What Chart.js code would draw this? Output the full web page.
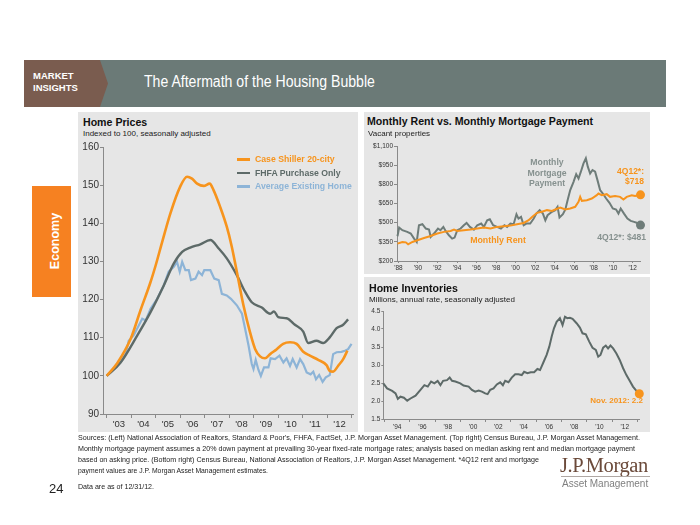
<!DOCTYPE html>
<html><head><meta charset="utf-8">
<script src="https://cdn.jsdelivr.net/npm/chart.js@4.4.0/dist/chart.umd.min.js"></script>
<style>
html,body{margin:0;padding:0;background:#fff;width:700px;height:525px;overflow:hidden;font-family:"Liberation Sans",Arial,sans-serif;}
body{position:relative;}
.a{position:absolute;white-space:nowrap;line-height:1;}
.l{transform:translateY(-50%);}
.c{transform:translate(-50%,-50%);text-align:center;}
.r{transform:translate(-100%,-50%);text-align:right;}
canvas{position:absolute;}
.panel{position:absolute;background:#e6e6e6;}
.src{position:absolute;left:78px;white-space:nowrap;font-size:8px;line-height:1;color:#222;transform-origin:0 50%;}
</style>
</head><body>
<!-- header -->
<div style="position:absolute;left:24px;top:60px;width:642px;height:47px;background:#6b7a77"></div>
<div style="position:absolute;left:24px;top:60px;width:84px;height:47px;background:#7a5c4f;clip-path:polygon(0 0,76px 0,84px 50%,76px 100%,0 100%)"></div>
<div class="a l" style="left:33px;top:76px;color:#fff;font-weight:bold;font-size:9.5px;">MARKET</div>
<div class="a l" style="left:33px;top:88px;color:#fff;font-weight:bold;font-size:9.5px;">INSIGHTS</div>
<div class="a" style="left:144px;top:82px;color:#fff;font-size:16px;transform-origin:0 50%;transform:translateY(-50%) scaleX(0.88);">The Aftermath of the Housing Bubble</div>

<!-- side tab -->
<div style="position:absolute;left:32px;top:186px;width:39px;height:111px;background:#f68121"></div>
<div class="a" style="left:55px;top:241px;color:#fff;font-weight:bold;font-size:12.5px;transform:translate(-50%,-50%) rotate(-90deg);">Economy</div>

<!-- panels -->
<div class="panel" style="left:78px;top:112px;width:280px;height:320px"></div>
<div class="panel" style="left:364px;top:112px;width:286px;height:162px"></div>
<div class="panel" style="left:364px;top:277px;width:286px;height:155px"></div>

<!-- left titles -->
<div class="a l" style="left:83px;top:122px;font-weight:bold;font-size:10.6px;color:#111">Home Prices</div>
<div class="a l" style="left:83px;top:134px;font-size:8px;color:#222">Indexed to 100, seasonally adjusted</div>

<canvas id="c1" width="300" height="294" style="left:58px;top:140px"></canvas>

<!-- left legend -->
<div style="position:absolute;left:237px;top:158px;width:13px;height:2.5px;background:#f7941d"></div>
<div style="position:absolute;left:237px;top:171.5px;width:13px;height:2.5px;background:#5d6a68"></div>
<div style="position:absolute;left:237px;top:185px;width:13px;height:2.5px;background:#8db4d7"></div>
<div class="a l" style="left:255px;top:159.3px;font-weight:bold;font-size:8.7px;color:#f7941d">Case Shiller 20-city</div>
<div class="a l" style="left:255px;top:172.7px;font-weight:bold;font-size:8.7px;color:#5d6a68">FHFA Purchase Only</div>
<div class="a l" style="left:255px;top:186px;font-weight:bold;font-size:8.7px;color:#8db4d7">Average Existing Home</div>

<!-- top right titles -->
<div class="a l" style="left:367px;top:121px;font-weight:bold;font-size:10.6px;color:#111">Monthly Rent vs. Monthly Mortgage Payment</div>
<div class="a l" style="left:368px;top:134px;font-size:8px;color:#222">Vacant properties</div>

<canvas id="c2" width="300" height="136" style="left:350px;top:138px"></canvas>

<div class="a c" style="left:547px;top:162.3px;font-weight:bold;font-size:8.7px;color:#86918f">Monthly</div>
<div class="a c" style="left:547px;top:172.7px;font-weight:bold;font-size:8.7px;color:#86918f">Mortgage</div>
<div class="a c" style="left:547px;top:183px;font-weight:bold;font-size:8.7px;color:#86918f">Payment</div>
<div class="a r" style="left:644px;top:170.7px;font-weight:bold;font-size:8.5px;color:#f7941d">4Q12*:</div>
<div class="a r" style="left:644px;top:181px;font-weight:bold;font-size:8.5px;color:#f7941d">$718</div>
<div class="a r" style="left:646px;top:237.3px;font-weight:bold;font-size:8.6px;color:#86918f">4Q12*: $481</div>
<div class="a c" style="left:498px;top:240px;font-weight:bold;font-size:8.8px;color:#f7941d">Monthly Rent</div>

<!-- bottom right titles -->
<div class="a l" style="left:369px;top:288px;font-weight:bold;font-size:10.6px;color:#111">Home Inventories</div>
<div class="a l" style="left:369px;top:299.5px;font-size:8px;color:#222">Millions, annual rate, seasonally adjusted</div>

<canvas id="c3" width="300" height="130" style="left:350px;top:303px"></canvas>
<div class="a r" style="left:643px;top:401px;font-weight:bold;font-size:8px;color:#f7941d">Nov. 2012: 2.2</div>

<!-- footer: each line scaled to its measured width -->
<div class="src" data-w="562" style="top:438px">Sources: (Left) National Association of Realtors, Standard &amp; Poor's, FHFA, FactSet, J.P. Morgan Asset Management. (Top right) Census Bureau, J.P. Morgan Asset Management.</div>
<div class="src" data-w="557" style="top:449px">Monthly mortgage payment assumes a 20% down payment at prevailing 30-year fixed-rate mortgage rates; analysis based on median asking rent and median mortgage payment</div>
<div class="src" data-w="461" style="top:460px">based on asking price. (Bottom right) Census Bureau, National Association of Realtors, J.P. Morgan Asset Management. *4Q12 rent and mortgage</div>
<div class="src" data-w="190" style="top:471px">payment values are J.P. Morgan Asset Management estimates.</div>
<div class="src" data-w="76" style="top:487px">Data are as of 12/31/12.</div>
<div class="a l" style="left:49px;top:488px;font-size:13px;color:#222">24</div>
<div class="a l" style="left:560px;top:465px;font-family:'Liberation Serif','Times New Roman',serif;font-size:20.5px;color:#6b4a3a;letter-spacing:-0.4px">J.P.Morgan</div>
<div style="position:absolute;left:561px;top:476px;width:89px;height:1px;background:#b0a8a4"></div>
<div class="a l" style="left:562px;top:484px;font-size:10px;color:#7f7f7f">Asset Management</div>

<script>
// fit footer source lines to their measured widths
document.querySelectorAll('.src').forEach(el => {
  const w = el.getBoundingClientRect().width;
  const k = parseFloat(el.dataset.w) / w;
  el.style.transform = 'translateY(-50%) scaleX(' + k.toFixed(4) + ')';
});

// ---------- DATA ----------
// Left: Home prices indexed to 100 (x = decimal year)
const csYears = [2003.0, 2003.43, 2003.98, 2004.38, 2004.79, 2005.0, 2005.26, 2005.6, 2006.0, 2006.28, 2006.48, 2006.69, 2006.96, 2007.2, 2007.36, 2007.63, 2007.9, 2008.1, 2008.31, 2008.58, 2008.85, 2009.06, 2009.26, 2009.46, 2009.67, 2009.94, 2010.2, 2010.48, 2010.75, 2011.02, 2011.29, 2011.63, 2011.97, 2012.1, 2012.24, 2012.44, 2012.65, 2012.82];
const csValues = [100, 103.3, 109.7, 117.2, 124.6, 129, 135, 142.6, 149.6, 152.2, 151.7, 150.4, 149.8, 150.4, 148.7, 144.3, 139.1, 134, 127.3, 118.5, 111.4, 107, 105.1, 104.6, 105.7, 107, 108.4, 108.8, 108.4, 106.3, 105.3, 104.2, 102.8, 101.3, 101.1, 102.6, 104.4, 106.6];

const fhfaYears = [2003.0, 2003.57, 2004.25, 2004.79, 2005.33, 2005.74, 2006.08, 2006.41, 2006.82, 2007.23, 2007.57, 2007.9, 2008.31, 2008.65, 2008.92, 2009.33, 2009.67, 2009.83, 2010.0, 2010.34, 2010.68, 2011.02, 2011.22, 2011.56, 2011.83, 2012.1, 2012.38, 2012.65, 2012.85];
const fhfaValues = [100, 103.5, 110.6, 116.7, 123.7, 129.5, 132.5, 133.6, 134.5, 135.6, 133.4, 130.8, 126.4, 122, 119.3, 117.9, 116.3, 116.9, 115.4, 115.1, 113.4, 111.6, 108.6, 109.2, 108.6, 110.1, 112.5, 113.4, 114.8];

const aehYears = [2003.0, 2003.43, 2003.77, 2003.9, 2004.1, 2004.45, 2004.59, 2004.79, 2005.06, 2005.33, 2005.53, 2005.74, 2005.87, 2005.98, 2006.08, 2006.21, 2006.35, 2006.44, 2006.62, 2006.75, 2006.89, 2006.98, 2007.23, 2007.39, 2007.57, 2007.7, 2007.9, 2008.07, 2008.31, 2008.52, 2008.65, 2008.79, 2008.92, 2008.99, 2009.08, 2009.19, 2009.29, 2009.42, 2009.6, 2009.69, 2009.87, 2010.05, 2010.21, 2010.34, 2010.48, 2010.59, 2010.75, 2010.89, 2011.02, 2011.16, 2011.32, 2011.43, 2011.54, 2011.67, 2011.81, 2011.94, 2012.1, 2012.24, 2012.38, 2012.58, 2012.72, 2012.85, 2012.99];
const aehValues = [100, 102.6, 105.7, 109.2, 110.6, 115, 114.5, 117.6, 120.2, 123.7, 127.3, 128.6, 129.9, 127.3, 129.9, 127.7, 127.7, 125.1, 125.5, 127.3, 126.4, 127.7, 127.7, 125.5, 125.1, 121.5, 121.1, 120.2, 118.5, 116.3, 112.3, 107.9, 103.1, 101.8, 104.2, 101.6, 100, 102.2, 102.2, 104.6, 104.4, 105.3, 103.5, 104.6, 102.6, 104.4, 102.2, 104.4, 103.1, 100.9, 100.4, 101.1, 99.1, 100.2, 98.4, 99.6, 100.2, 105.7, 106.2, 106.3, 106.6, 107, 108.4];

// Top right: monthly mortgage payment vs monthly rent ($)
const mortYears = [1987.9, 1988.07, 1988.4, 1988.9, 1989.26, 1989.6, 1989.87, 1990.1, 1990.45, 1990.8, 1991.13, 1991.3, 1991.64, 1992.05, 1992.3, 1992.6, 1992.83, 1993.17, 1993.5, 1993.75, 1994.03, 1994.37, 1994.7, 1994.98, 1995.32, 1995.73, 1996.07, 1996.48, 1996.75, 1997.09, 1997.36, 1997.7, 1998.1, 1998.5, 1998.86, 1999.13, 1999.47, 1999.8, 2000.09, 2000.3, 2000.56, 2000.83, 2001.1, 2001.5, 2001.86, 2002.13, 2002.47, 2002.8, 2003.05, 2003.28, 2003.73, 2004.07, 2004.3, 2004.5, 2004.85, 2005.1, 2005.33, 2005.6, 2005.94, 2006.21, 2006.45, 2006.69, 2006.96, 2007.2, 2007.4, 2007.64, 2007.88, 2008.15, 2008.39, 2008.66, 2008.94, 2009.28, 2009.62, 2009.96, 2010.3, 2010.54, 2010.77, 2011.11, 2011.46, 2011.8, 2012.14, 2012.48, 2012.8];
const mortValues = [394, 462, 441, 428, 415, 375, 349, 480, 488, 454, 446, 388, 415, 454, 441, 467, 435, 401, 375, 383, 441, 454, 480, 498, 467, 446, 480, 493, 467, 519, 527, 480, 467, 454, 480, 467, 493, 488, 566, 532, 545, 480, 493, 493, 532, 571, 598, 571, 519, 558, 585, 598, 624, 540, 566, 603, 676, 755, 820, 880, 846, 899, 964, 1003, 938, 885, 912, 899, 833, 755, 728, 689, 655, 611, 603, 571, 611, 571, 532, 514, 506, 498, 481];

const rentYears = [1987.9, 1988.4, 1988.75, 1988.99, 1989.43, 1989.94, 1990.62, 1991.3, 1991.98, 1992.66, 1993.34, 1993.69, 1994.03, 1994.7, 1995.39, 1996.07, 1996.75, 1997.43, 1998.11, 1998.79, 1999.47, 2000.15, 2000.83, 2001.34, 2001.69, 2002.2, 2002.7, 2003.22, 2003.73, 2004.07, 2004.58, 2005.09, 2005.6, 2006.11, 2006.45, 2006.62, 2006.79, 2007.3, 2007.81, 2008.32, 2008.49, 2008.83, 2009.34, 2009.68, 2010.2, 2010.71, 2011.05, 2011.39, 2011.9, 2012.24, 2012.8];
const rentValues = [336, 349, 346, 331, 349, 362, 380, 396, 415, 428, 435, 446, 435, 441, 446, 454, 462, 454, 467, 472, 477, 488, 498, 519, 545, 577, 585, 598, 592, 603, 619, 603, 611, 624, 663, 702, 671, 676, 689, 715, 728, 715, 723, 702, 708, 702, 681, 702, 715, 708, 718];

// Bottom right: home inventories (millions)
const invYears = [1992.9, 1993.2, 1993.6, 1993.87, 1994.05, 1994.26, 1994.53, 1994.79, 1995.05, 1995.45, 1995.84, 1996.15, 1996.42, 1996.68, 1996.94, 1997.2, 1997.42, 1997.63, 1997.94, 1998.15, 1998.34, 1998.6, 1998.99, 1999.25, 1999.65, 1999.91, 2000.17, 2000.44, 2000.7, 2000.96, 2001.15, 2001.36, 2001.62, 2001.88, 2002.15, 2002.36, 2002.54, 2002.8, 2003.06, 2003.33, 2003.59, 2003.85, 2004.04, 2004.3, 2004.56, 2004.83, 2005.09, 2005.3, 2005.56, 2005.82, 2006.03, 2006.22, 2006.4, 2006.61, 2006.87, 2007.08, 2007.27, 2007.45, 2007.66, 2007.87, 2008.19, 2008.45, 2008.66, 2008.92, 2009.19, 2009.45, 2009.71, 2009.9, 2010.08, 2010.29, 2010.5, 2010.68, 2010.87, 2011.08, 2011.34, 2011.6, 2011.87, 2012.13, 2012.39, 2012.65, 2012.92, 2013.15];
const invValues = [2.49, 2.35, 2.28, 2.21, 2.06, 2.12, 2.09, 2.01, 2.07, 2.15, 2.31, 2.44, 2.40, 2.54, 2.49, 2.56, 2.44, 2.56, 2.58, 2.65, 2.56, 2.54, 2.49, 2.43, 2.40, 2.31, 2.26, 2.29, 2.26, 2.21, 2.19, 2.31, 2.35, 2.46, 2.52, 2.44, 2.56, 2.52, 2.65, 2.74, 2.74, 2.72, 2.81, 2.77, 2.80, 2.80, 2.89, 2.86, 3.07, 3.28, 3.51, 3.79, 4.02, 4.2, 4.30, 4.11, 4.34, 4.30, 4.31, 4.28, 4.16, 4.04, 3.88, 3.85, 3.65, 3.48, 3.42, 3.23, 3.28, 3.48, 3.54, 3.46, 3.54, 3.46, 3.32, 3.14, 2.91, 2.72, 2.56, 2.40, 2.28, 2.2];

// Tick label years
const leftLabelYears = [2003, 2004, 2005, 2006, 2007, 2008, 2009, 2010, 2011, 2012];
const rentLabelYears = [1988, 1990, 1992, 1994, 1996, 1998, 2000, 2002, 2004, 2006, 2008, 2010, 2012];
const invLabelYears = [1994, 1996, 1998, 2000, 2002, 2004, 2006, 2008, 2010, 2012];

// ---------- STYLE ----------
const ORANGE = '#f7941d', SLATE = '#5d6a68', BLUE = '#8db4d7', MGRAY = '#6e7c79';
const AX = '#8a8a8a', TXT = '#333';
const FONT = '"Liberation Sans", Arial, sans-serif';
Chart.defaults.font.family = FONT;
const yy = y => "'" + String(y % 100).padStart(2, '0');
const pts = (xs, ys) => xs.map((x, i) => ({x, y: ys[i]}));
const isInt = v => Math.abs(v - Math.round(v)) < 1e-6;
const base = {responsive: false, animation: false, devicePixelRatio: 1,
  plugins: {legend: {display: false}, tooltip: {enabled: false}}, events: []};

// Chart 1: Home prices
new Chart(document.getElementById('c1'), {
  type: 'line',
  data: {datasets: [
    {data: pts(csYears, csValues), borderColor: ORANGE, borderWidth: 2.6, pointRadius: 0, cubicInterpolationMode: 'monotone'},
    {data: pts(fhfaYears, fhfaValues), borderColor: SLATE, borderWidth: 2.4, pointRadius: 0, cubicInterpolationMode: 'monotone'},
    {data: pts(aehYears, aehValues), borderColor: BLUE, borderWidth: 2.2, pointRadius: 0, tension: 0}
  ]},
  options: Object.assign({}, base, {
    layout: {padding: {top: 7, right: 5, left: 0, bottom: 0}},
    scales: {
      x: {type: 'linear', min: 2002.85, max: 2013.05,
        afterBuildTicks: s => { const t = []; leftLabelYears.forEach(y => { t.push({value: y}); t.push({value: y + 0.5}); }); t.push({value: 2013}); s.ticks = t; },
        ticks: {autoSkip: false, maxRotation: 0, padding: 1, color: TXT, font: {size: 9.5},
          callback: v => isInt(v) ? '' : yy(Math.floor(v))},
        grid: {drawOnChartArea: false, tickLength: 4, tickColor: c => (c.tick && isInt(c.tick.value)) ? AX : 'rgba(0,0,0,0)'},
        border: {color: AX, width: 1},
        afterFit: s => { s.height = 20; }
      },
      y: {min: 90, max: 160,
        ticks: {stepSize: 10, padding: 1, color: TXT, font: {size: 10}},
        grid: {drawOnChartArea: false, tickLength: 3, tickColor: AX},
        border: {color: AX, width: 1},
        afterFit: s => { s.width = 45; }
      }
    }
  })
});

// Chart 2: rent vs mortgage
const lastDot = (n, r) => c => c.dataIndex === n - 1 ? r : 0;
new Chart(document.getElementById('c2'), {
  type: 'line',
  data: {datasets: [
    {data: pts(rentYears, rentValues), borderColor: ORANGE, backgroundColor: ORANGE, borderWidth: 2, tension: 0,
      pointRadius: lastDot(rentYears.length, 4.5), pointBorderWidth: 0, pointBackgroundColor: ORANGE, clip: false},
    {data: pts(mortYears, mortValues), borderColor: MGRAY, backgroundColor: MGRAY, borderWidth: 2, tension: 0,
      pointRadius: lastDot(mortYears.length, 4.5), pointBorderWidth: 0, pointBackgroundColor: MGRAY, clip: false}
  ]},
  options: Object.assign({}, base, {
    layout: {padding: {top: 8, right: 9.5, left: 0, bottom: 0}},
    scales: {
      x: {type: 'linear', min: 1987.85, max: 2012.8,
        afterBuildTicks: s => { s.ticks = rentLabelYears.map(v => ({value: v})); },
        ticks: {autoSkip: false, maxRotation: 0, padding: 1, color: TXT, font: {size: 6.5}, callback: v => yy(v)},
        grid: {drawOnChartArea: false, tickLength: 2, tickColor: AX},
        border: {color: AX, width: 1},
        afterFit: s => { s.height = 13; }
      },
      y: {min: 200, max: 1100,
        ticks: {stepSize: 150, padding: 1, color: TXT, font: {size: 6.5}, callback: v => '$' + v.toLocaleString('en-US')},
        grid: {drawOnChartArea: false, tickLength: 3, tickColor: AX},
        border: {color: AX, width: 1},
        afterFit: s => { s.width = 47; }
      }
    }
  })
});

// Chart 3: inventories
new Chart(document.getElementById('c3'), {
  type: 'line',
  data: {datasets: [
    {data: pts(invYears, invValues), borderColor: SLATE, borderWidth: 2, tension: 0,
      pointRadius: lastDot(invYears.length, 4.5), pointBorderWidth: 0,
      pointBackgroundColor: c => c.dataIndex === invYears.length - 1 ? ORANGE : SLATE, clip: false}
  ]},
  options: Object.assign({}, base, {
    layout: {padding: {top: 8, right: 10.7, left: 0, bottom: 0}},
    scales: {
      x: {type: 'linear', min: 1992.9, max: 2013.15,
        afterBuildTicks: s => { const t = []; for (let y = 1993; y <= 2013; y++) t.push({value: y}); s.ticks = t; },
        ticks: {autoSkip: false, maxRotation: 0, padding: 1, color: TXT, font: {size: 6.5},
          callback: v => invLabelYears.includes(v) ? yy(v) : ''},
        grid: {drawOnChartArea: false, tickLength: 3, tickColor: c => (c.tick && c.tick.value % 2 === 1) ? AX : 'rgba(0,0,0,0)'},
        border: {color: AX, width: 1},
        afterFit: s => { s.height = 14; }
      },
      y: {min: 1.5, max: 4.5,
        ticks: {stepSize: 0.5, padding: 1, color: TXT, font: {size: 6.5}, callback: v => v.toFixed(1)},
        grid: {drawOnChartArea: false, tickLength: 2, tickColor: AX},
        border: {color: AX, width: 1},
        afterFit: s => { s.width = 33.3; }
      }
    }
  })
});
</script>
</body></html>
